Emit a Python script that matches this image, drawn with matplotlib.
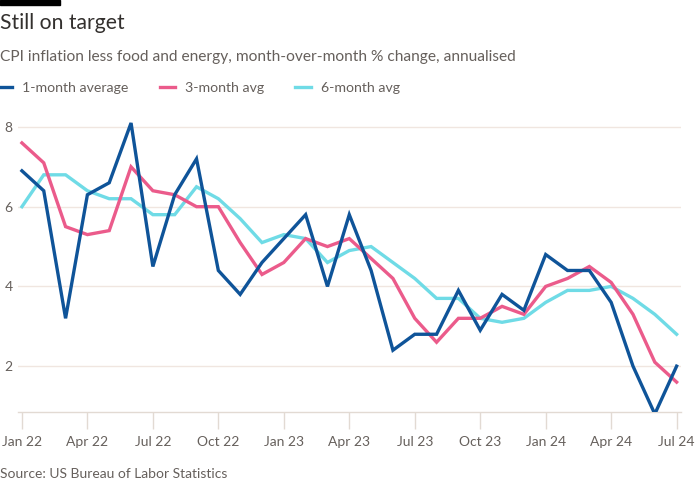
import matplotlib
matplotlib.use("Agg")
import matplotlib.pyplot as plt
from matplotlib.lines import Line2D
import numpy as np

months = ["Jan 22", "Feb 22", "Mar 22", "Apr 22", "May 22", "Jun 22", "Jul 22", "Aug 22",
          "Sep 22", "Oct 22", "Nov 22", "Dec 22", "Jan 23", "Feb 23", "Mar 23", "Apr 23",
          "May 23", "Jun 23", "Jul 23", "Aug 23", "Sep 23", "Oct 23", "Nov 23", "Dec 23",
          "Jan 24", "Feb 24", "Mar 24", "Apr 24", "May 24", "Jun 24", "Jul 24"]
one_month = [6.9, 6.4, 3.2, 6.3, 6.6, 8.1, 4.5, 6.3, 7.2, 4.4, 3.8, 4.6, 5.2, 5.8, 4.0, 5.8,
             4.4, 2.4, 2.8, 2.8, 3.9, 2.9, 3.8, 3.4, 4.8, 4.4, 4.4, 3.6, 2.0, 0.8, 2.0]
three_month = [7.6, 7.1, 5.5, 5.3, 5.4, 7.0, 6.4, 6.3, 6.0, 6.0, 5.1, 4.3, 4.6, 5.2, 5.0, 5.2,
               4.7, 4.2, 3.2, 2.6, 3.2, 3.2, 3.5, 3.3, 4.0, 4.2, 4.5, 4.1, 3.3, 2.1, 1.6]
six_month = [6.0, 6.8, 6.8, 6.4, 6.2, 6.2, 5.8, 5.8, 6.5, 6.2, 5.7, 5.1, 5.3, 5.2, 4.6, 4.9,
             5.0, 4.6, 4.2, 3.7, 3.7, 3.2, 3.1, 3.2, 3.6, 3.9, 3.9, 4.0, 3.7, 3.3, 2.8]
series_names = ["1-month average", "3-month avg", "6-month avg"]
tick_labels = ["Jan 22", "Apr 22", "Jul 22", "Oct 22", "Jan 23", "Apr 23", "Jul 23",
               "Oct 23", "Jan 24", "Apr 24", "Jul 24"]
y_ticks = [2, 4, 6, 8]

colors = ["#0f5499", "#eb5b8b", "#6fdbe6"]
FONT = "Lato"
plt.rcParams['font.family'] = [FONT, 'DejaVu Sans']

fig = plt.figure(figsize=(7, 5), dpi=100, facecolor="white")
ax = fig.add_axes([18/700, 1-412/500, (681-18)/700, (412-119)/500])
ax.set_facecolor("white")

x = np.arange(len(months))
ax.plot(x, six_month, color=colors[2], lw=2.4, solid_joinstyle="miter", zorder=3)
ax.plot(x, three_month, color=colors[1], lw=2.4, solid_joinstyle="miter", zorder=4)
ax.plot(x, one_month, color=colors[0], lw=2.4, solid_joinstyle="miter", zorder=5)

ax.set_xlim(-0.18, 30.2)
ax.set_ylim(0.85, 8.2)

ax.set_yticks(y_ticks)
ax.set_yticklabels([str(v) for v in y_ticks], color="#66605c", fontsize=10)
ax.tick_params(axis="y", length=0, pad=4)
ax.grid(axis="y", color="#f0e6e0", lw=1)

tick_pos = [months.index(t) for t in tick_labels]
ax.set_xticks(tick_pos)
ax.set_xticklabels(tick_labels, color="#66605c", fontsize=10)
ax.tick_params(axis="x", length=12, width=1, color="#e2dad3", pad=5)

for s in ["top", "right", "left"]:
    ax.spines[s].set_visible(False)
ax.spines["bottom"].set_color("#e2dad3")
ax.spines["bottom"].set_linewidth(1)
ax.set_axisbelow(True)

# Header
fig.patches.append(plt.Rectangle((0, 1-5/500), 60/700, 5/500, transform=fig.transFigure,
                                 color="black", zorder=10))
fig.text(0, 1-23/500, "Still on target", fontsize=15.2, color="#33302e", va="center", ha="left")
fig.text(0, 1-57/500, "CPI inflation less food and energy, month-over-month % change, annualised",
         fontsize=11.2, color="#66605c", va="center", ha="left")

# Legend
handles = [Line2D([0], [0], color=c, lw=2.4) for c in colors]
leg = fig.legend(handles, series_names, loc="center left", bbox_to_anchor=(-0.005, 1-88/500),
                 ncol=3, frameon=False, handlelength=1.1, handletextpad=0.7,
                 columnspacing=2.2, fontsize=10.2, labelcolor="#66605c", borderaxespad=0,
                 borderpad=0)

fig.text(0, 1-474/500, "Source: US Bureau of Labor Statistics", fontsize=10,
         color="#66605c", va="center", ha="left")

fig.savefig("out.png", dpi=100, facecolor="white")
